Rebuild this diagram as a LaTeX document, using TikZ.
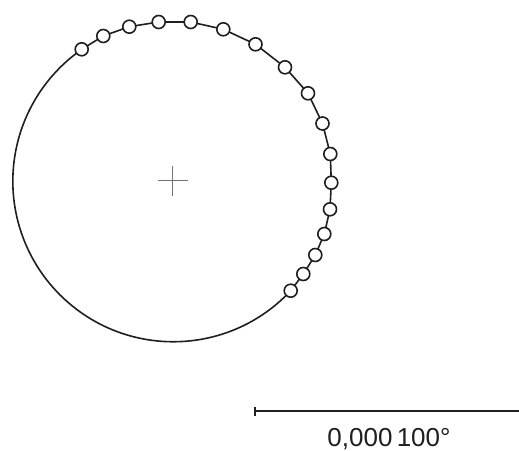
\documentclass[tikz,border=0pt]{standalone}
\usepackage{fontspec}
\setmainfont{Liberation Sans}
\begin{document}
\begin{tikzpicture}[x=1pt,y=1pt,
  ink/.style={draw=black!88, line width=1.6pt},
  dot/.style={circle, draw=black!88, fill=white, line width=1.6pt, minimum size=13pt, inner sep=0pt},
  crossline/.style={draw=black!55, line width=1.1pt},
  barline/.style={draw=black!88, line width=2.6pt}]
\useasboundingbox (0,0) rectangle (519,450);
% positions of the sample points
\coordinate (c1) at (81.7,400.7);
\coordinate (c2) at (103.3,414);
\coordinate (c3) at (129.3,423.3);
\coordinate (c4) at (158.7,428);
\coordinate (c5) at (190.7,428);
\coordinate (c6) at (223.3,420.7);
\coordinate (c7) at (255.5,405.7);
\coordinate (c8) at (285,382.7);
\coordinate (c9) at (308,356.7);
\coordinate (c10) at (322.5,326.5);
\coordinate (c11) at (330.3,296);
\coordinate (c12) at (331.3,267.3);
\coordinate (c13) at (330,240.7);
\coordinate (c14) at (324.3,216);
\coordinate (c15) at (315.3,195);
\coordinate (c16) at (303.3,176);
\coordinate (c17) at (290.7,159.3);
% polyline through the points
\draw[ink] (c1) -- (c2) -- (c3) -- (c4) -- (c5) -- (c6) -- (c7) -- (c8) -- (c9)
  -- (c10) -- (c11) -- (c12) -- (c13) -- (c14) -- (c15) -- (c16) -- (c17);
% large arc closing the orbit
\draw[ink] (c17) arc[start angle=-43, end angle=-235.3, radius=160.5];
% the sample points
\foreach \i in {1,...,17} { \node[dot] (p\i) at (c\i) {}; }
% centre cross
\coordinate (ctr) at (172.7,269.3);
\draw[crossline] ([xshift=-15pt]ctr) -- ([xshift=15pt]ctr);
\draw[crossline] ([yshift=-15pt]ctr) -- ([yshift=15pt]ctr);
% scale bar
\coordinate (sa) at (255,39);
\coordinate (sb) at (519,39);
\draw[barline] (sa) -- (sb);
\draw[draw=black!88, line width=2.2pt] ([yshift=-4.5pt]sa) -- ([yshift=4.5pt]sa);
\node[anchor=base, inner sep=0pt, text=black!88, font=\fontsize{26}{30}\selectfont] (lbl) at (389,4) {0,000\,100°};
\end{tikzpicture}
\end{document}
